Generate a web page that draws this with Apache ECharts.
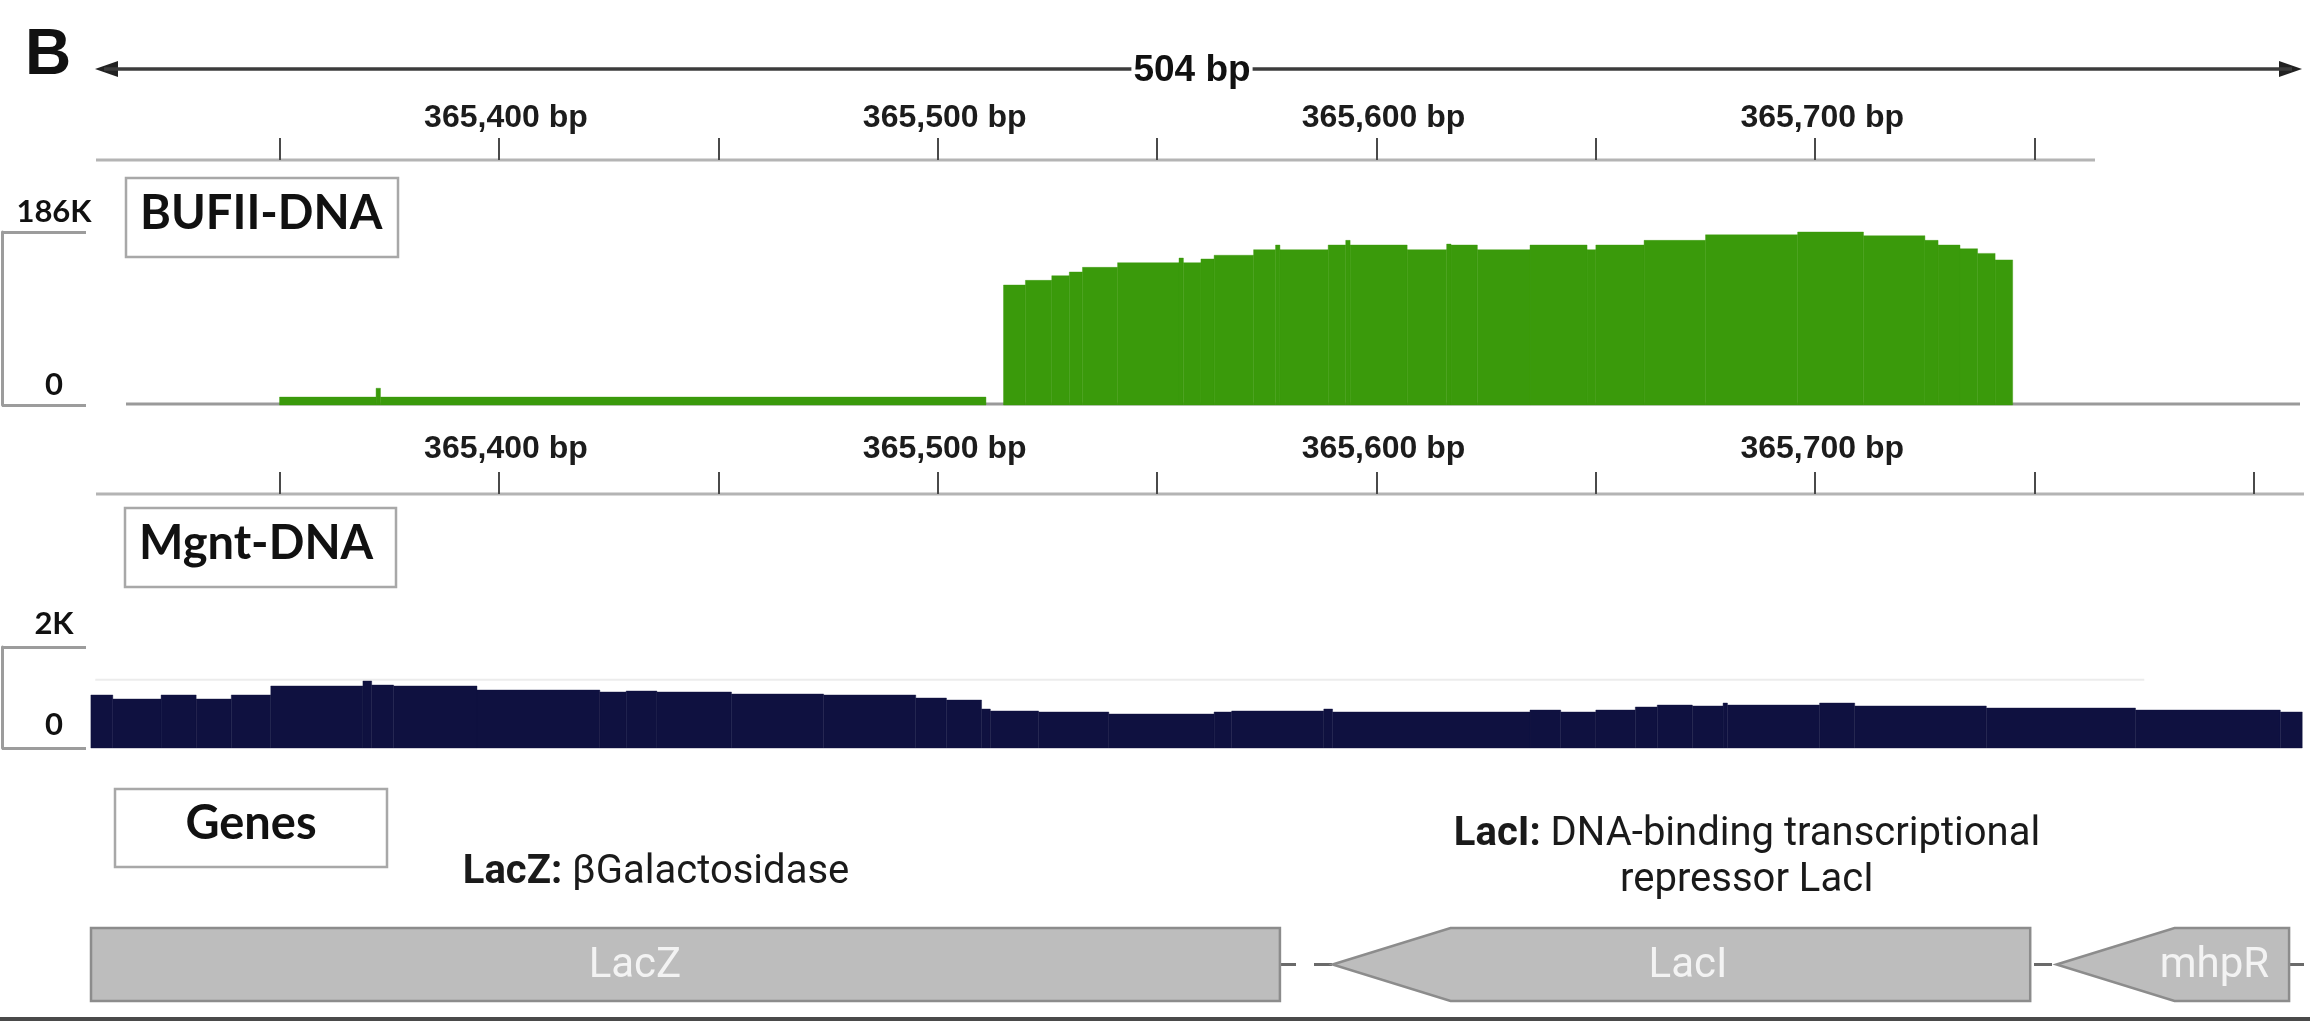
<!DOCTYPE html>
<html>
<head>
<meta charset="utf-8">
<script src="https://cdn.jsdelivr.net/npm/echarts@6/dist/echarts.min.js"></script>
<style>
  html, body { margin: 0; padding: 0; background: #ffffff; }
  #chart { width: 2310px; height: 1026px; }
</style>
</head>
<body>
<div id="chart"></div>
<script>
// ---- genomic window (bp) ----
const viewStart = 365306.8;
const viewEnd = 365811.4;
const panelLetter = 'B';
const spanLabel = '504 bp';

// ruler: ticks every 50 bp, labels every 100 bp
const rulerTicksTop = [365350, 365400, 365450, 365500, 365550, 365600, 365650, 365700, 365750];
const rulerTicksMid = [365350, 365400, 365450, 365500, 365550, 365600, 365650, 365700, 365750, 365800];
const rulerLabels = [365400, 365500, 365600, 365700];

// track names
const trackNames = ['BUFII-DNA', 'Mgnt-DNA', 'Genes'];

// data ranges of the two coverage tracks and their labels
const bufiiRange = [0, 186];          // thousands of reads
const bufiiRangeLabels = ['0', '186K'];
const mgntRange = [0, 2000];
const mgntRangeLabels = ['0', '2K'];

// BUFII-DNA coverage runs: [start bp, end bp (exclusive), depth in K]
const bufiiRuns = [
  [365350, 365372, 8.5],
  [365372, 365373, 18],
  [365373, 365511, 8.5],
  [365515, 365520, 129],
  [365520, 365526, 134],
  [365526, 365530, 139],
  [365530, 365533, 143],
  [365533, 365541, 148],
  [365541, 365555, 153],
  [365555, 365556, 158],
  [365556, 365560, 153],
  [365560, 365563, 157],
  [365563, 365572, 161],
  [365572, 365577, 167],
  [365577, 365578, 172],
  [365578, 365589, 167],
  [365589, 365593, 172],
  [365593, 365594, 177],
  [365594, 365607, 172],
  [365607, 365616, 167],
  [365616, 365617, 173],
  [365617, 365623, 172],
  [365623, 365635, 167],
  [365635, 365648, 172],
  [365648, 365650, 167],
  [365650, 365661, 172],
  [365661, 365675, 177],
  [365675, 365696, 183],
  [365696, 365711, 186],
  [365711, 365725, 182],
  [365725, 365728, 177],
  [365728, 365733, 172],
  [365733, 365737, 168],
  [365737, 365741, 163],
  [365741, 365745, 156]
];

// Mgnt-DNA coverage runs: [start bp, end bp (exclusive), depth]
const mgntRuns = [
  [365307, 365312, 1050],
  [365312, 365323, 970],
  [365323, 365331, 1050],
  [365331, 365339, 970],
  [365339, 365348, 1050],
  [365348, 365369, 1228],
  [365369, 365371, 1327],
  [365371, 365376, 1247],
  [365376, 365395, 1228],
  [365395, 365423, 1148],
  [365423, 365429, 1109],
  [365429, 365436, 1129],
  [365436, 365453, 1109],
  [365453, 365474, 1069],
  [365474, 365495, 1050],
  [365495, 365502, 990],
  [365502, 365510, 950],
  [365510, 365512, 772],
  [365512, 365523, 733],
  [365523, 365539, 713],
  [365539, 365563, 673],
  [365563, 365567, 713],
  [365567, 365588, 733],
  [365588, 365590, 772],
  [365590, 365635, 713],
  [365635, 365642, 752],
  [365642, 365650, 713],
  [365650, 365659, 752],
  [365659, 365664, 812],
  [365664, 365672, 851],
  [365672, 365679, 832],
  [365679, 365680, 891],
  [365680, 365701, 851],
  [365701, 365709, 891],
  [365709, 365739, 832],
  [365739, 365773, 792],
  [365773, 365806, 752],
  [365806, 365811, 713]
];
// faint guide line across the Mgnt-DNA track
const mgntGuide = [[365308, 1350], [365775, 1350]];

// genes: [name, start bp, end bp, strand, bp where the name is written]
const genes = [
  ['LacZ', 365250, 365578, '-', 365431],
  ['LacI', 365590, 365749, '-', 365671],
  ['mhpR', 365755, 365808, '-', 365791]
];
// gene product notes
const geneNotes = [
  ['LacZ', 'βGalactosidase'],
  ['LacI', 'DNA-binding transcriptional\nrepressor LacI']
];

// ---- styles ----
const GREEN = '#3a9a0b';
const NAVY = '#0f1140';
const GRID_L = 90, GRID_W = 2214;
const HEAD_PX = 118;

function coverageItem(color) {
  return function (params, api) {
    const a = api.coord([api.value(0), api.value(2)]);
    const b = api.coord([api.value(1), 0]);
    return {
      type: 'rect',
      shape: { x: a[0], y: a[1], width: b[0] - a[0], height: b[1] - a[1] },
      style: { fill: color, stroke: color, lineWidth: 0.4 }
    };
  };
}

function geneItem(params, api) {
  const cs = params.coordSys;
  const s = api.coord([api.value(0), 1]);
  const e = api.coord([api.value(1), 0]);
  const lab = api.coord([api.value(2), 0.5]);
  const top = s[1], bottom = e[1], mid = (top + bottom) / 2;
  const left = Math.max(s[0], cs.x + 1);
  const right = Math.min(e[0], cs.x + cs.width);
  const tipIn = s[0] >= cs.x;
  const pts = tipIn
    ? [[left, mid], [left + HEAD_PX, top], [right, top], [right, bottom], [left + HEAD_PX, bottom]]
    : [[left, top], [right, top], [right, bottom], [left, bottom]];
  return {
    type: 'group',
    children: [
      { type: 'polygon', shape: { points: pts },
        style: { fill: '#bdbdbd', stroke: '#8c8c8c', lineWidth: 2.5 } },
      { type: 'text',
        style: { text: genes[params.dataIndex][0], x: lab[0], y: mid + 2,
          align: 'center', verticalAlign: 'middle', fill: '#f3f3f3',
          fontFamily: 'Roboto', fontSize: 42 } }
    ]
  };
}

function rulerAxis(gridIndex, ticks, margin) {
  return {
    type: 'value', gridIndex, min: viewStart, max: viewEnd, position: 'bottom',
    axisLine: { show: false },
    splitLine: { show: false },
    axisTick: { show: true, inside: true, length: 22, customValues: ticks,
      lineStyle: { color: '#4a4a4a', width: 2 } },
    axisLabel: { show: true, inside: true, margin, customValues: rulerLabels,
      formatter: v => Number(v).toLocaleString('en-US') + ' bp',
      fontFamily: 'Liberation Sans', fontWeight: 'bold', fontSize: 32, color: '#1c1c1c',
      padding: [0, 0, 0, 14] }
  };
}
function hiddenX(gridIndex) {
  return { type: 'value', gridIndex, min: viewStart, max: viewEnd, show: false };
}
function rangeAxis(gridIndex, range, labels, pad) {
  return {
    type: 'value', gridIndex, min: range[0], max: range[1], interval: range[1] - range[0],
    position: 'left', offset: GRID_L - 2,
    axisLine: { show: true, lineStyle: { color: '#9c9c9c', width: 3 } },
    axisTick: { show: true, inside: true, length: 84, lineStyle: { color: '#9c9c9c', width: 3 } },
    splitLine: { show: false },
    axisLabel: { show: true, inside: true, margin: 52, align: 'center', verticalAlign: 'bottom',
      padding: [0, 0, pad, 0],
      formatter: (v, i) => labels[i],
      fontFamily: 'Lato', fontWeight: 'bold', fontSize: 31, color: '#111' }
  };
}

function labelBox(x, y, w, h, text, centered) {
  return {
    type: 'group', children: [
      { type: 'rect', shape: { x, y, width: w, height: h },
        style: { fill: '#fff', stroke: '#a8a8a8', lineWidth: 2.5 } },
      { type: 'text', style: {
          text, x: centered ? x + w / 2 : x + 14, y: y + h / 2 - 4,
          align: centered ? 'center' : 'left', verticalAlign: 'middle',
          fontFamily: 'Lato', fontWeight: 'bold', fontSize: 47, fill: '#111' } }
    ]
  };
}

const chart = echarts.init(document.getElementById('chart'), null, { renderer: 'canvas' });

const grids = [
  { left: GRID_L, width: GRID_W, top: 60, height: 100 },   // top ruler
  { left: GRID_L, width: GRID_W, top: 232, height: 173 },  // BUFII-DNA
  { left: GRID_L, width: GRID_W, top: 394, height: 100 },  // second ruler
  { left: GRID_L, width: GRID_W, top: 647, height: 101 },  // Mgnt-DNA
  { left: GRID_L, width: GRID_W, top: 928, height: 73 }    // genes
].map(g => Object.assign(g, { outerBoundsMode: 'none', containLabel: false }));

const noteStyle = {
  fontFamily: 'Roboto', fontSize: 40, fill: '#1a1a1a', lineHeight: 46, align: 'center',
  rich: { b: { fontFamily: 'Roboto', fontWeight: 'bold', fontSize: 40, lineHeight: 46, fill: '#1a1a1a' } }
};
function noteText(i) {
  return '{b|' + geneNotes[i][0] + ':} ' + geneNotes[i][1];
}

chart.setOption({
  animation: false,
  backgroundColor: '#ffffff',
  grid: grids,
  xAxis: [
    rulerAxis(0, rulerTicksTop, 26),
    hiddenX(1),
    rulerAxis(2, rulerTicksMid, 29),
    hiddenX(3),
    hiddenX(4)
  ],
  yAxis: [
    { type: 'value', gridIndex: 0, show: false },
    rangeAxis(1, bufiiRange, bufiiRangeLabels, 5),
    { type: 'value', gridIndex: 2, show: false },
    rangeAxis(3, mgntRange, mgntRangeLabels, 8),
    { type: 'value', gridIndex: 4, min: 0, max: 1, show: false }
  ],
  series: [
    { type: 'custom', xAxisIndex: 1, yAxisIndex: 1, data: bufiiRuns,
      encode: { x: [0, 1], y: 2 }, renderItem: coverageItem(GREEN), z: 3 },
    { type: 'line', xAxisIndex: 3, yAxisIndex: 3, data: mgntGuide, symbol: 'none',
      lineStyle: { color: '#ececec', width: 2 }, z: 1, silent: true },
    { type: 'custom', xAxisIndex: 3, yAxisIndex: 3, data: mgntRuns,
      encode: { x: [0, 1], y: 2 }, renderItem: coverageItem(NAVY), z: 3 },
    { type: 'line', xAxisIndex: 4, yAxisIndex: 4, data: [[viewStart, 0.5], [viewEnd, 0.5]],
      symbol: 'none', lineStyle: { color: '#6a6a6a', width: 3, type: [18, 18] }, z: 1, silent: true },
    { type: 'custom', xAxisIndex: 4, yAxisIndex: 4, data: genes.map(g => [g[1], g[2], g[4]]),
      encode: { x: [0, 1] }, renderItem: geneItem, z: 3 }
  ],
  graphic: [
    // panel letter
    { type: 'text', left: 25, top: 24, style: { text: panelLetter, fontFamily: 'Liberation Sans',
        fontWeight: 'bold', fontSize: 64, fill: '#111' } },
    // span arrow
    { type: 'line', shape: { x1: 104, y1: 69, x2: 2292, y2: 69 },
      style: { stroke: '#3c3c3c', lineWidth: 3.5 }, z: 1 },
    { type: 'polygon', shape: { points: [[95, 69], [118, 61], [118, 77]] }, style: { fill: '#222' } },
    { type: 'polygon', shape: { points: [[2302, 69], [2279, 61], [2279, 77]] }, style: { fill: '#222' } },
    { type: 'text', x: 1192, y: 71, z: 5, style: { text: spanLabel, align: 'center', verticalAlign: 'middle',
        fontFamily: 'Liberation Sans', fontWeight: 'bold', fontSize: 37, fill: '#111',
        backgroundColor: '#fff', padding: [0, 2] } },
    // ruler baselines
    { type: 'line', shape: { x1: 96, y1: 160, x2: 2095, y2: 160 }, style: { stroke: '#b4b4b4', lineWidth: 3 } },
    { type: 'line', shape: { x1: 96, y1: 494, x2: 2304, y2: 494 }, style: { stroke: '#b4b4b4', lineWidth: 3 } },
    // BUFII track baseline
    { type: 'line', shape: { x1: 126, y1: 404, x2: 2300, y2: 404 }, style: { stroke: '#9a9a9a', lineWidth: 3 }, z: 0 },
    // track name boxes
    labelBox(126, 178, 272, 79, trackNames[0], false),
    labelBox(125, 508, 271, 79, trackNames[1], false),
    labelBox(115, 789, 272, 78, trackNames[2], true),
    // gene product notes
    { type: 'text', x: 656, y: 896, style: Object.assign({ text: noteText(0), verticalAlign: 'bottom' }, noteStyle) },
    { type: 'text', x: 1747, y: 904, style: Object.assign({ text: noteText(1), verticalAlign: 'bottom' }, noteStyle) },
    // bottom frame line
    { type: 'line', shape: { x1: 0, y1: 1019, x2: 2310, y2: 1019 }, style: { stroke: '#4a4a4a', lineWidth: 4 } }
  ]
});
</script>
</body>
</html>
